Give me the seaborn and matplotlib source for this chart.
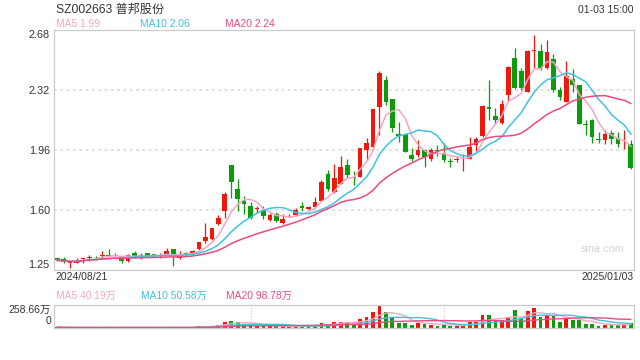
import numpy as np
import pandas as pd
import matplotlib
matplotlib.use('Agg')
import matplotlib.pyplot as plt
import seaborn as sns

# daily k-line, 2024/08/21 .. 2025/01/03
opens = [1.312, 1.306, 1.282, 1.282, 1.306, 1.312, 1.316, 1.322, 1.332, 1.326,
         1.318, 1.292, 1.340, 1.314, 1.340, 1.334, 1.326, 1.338, 1.364, 1.312,
         1.340, 1.340, 1.366, 1.414, 1.426, 1.516, 1.594, 1.868, 1.724, 1.654,
         1.622, 1.608, 1.602, 1.542, 1.574, 1.522, 1.562, 1.568, 1.626, 1.606,
         1.620, 1.656, 1.814, 1.708, 1.758, 1.868, 1.800, 1.798, 1.960, 1.976,
         2.218, 2.378, 2.268, 2.054, 2.054, 1.932, 1.928, 1.958, 1.904, 1.962,
         1.940, 1.892, 1.900, 1.904, 1.906, 1.990, 2.046, 2.216, 2.166, 2.120,
         2.290, 2.510, 2.434, 2.310, 2.556, 2.554, 2.454, 2.508, 2.318, 2.248,
         2.388, 2.348, 2.118, 2.138, 2.026, 2.018, 2.062, 2.032, 1.976, 1.994]
closes = [1.298, 1.290, 1.286, 1.292, 1.310, 1.320, 1.318, 1.332, 1.326, 1.332,
          1.292, 1.332, 1.326, 1.332, 1.326, 1.322, 1.330, 1.354, 1.322, 1.330,
          1.336, 1.352, 1.406, 1.436, 1.490, 1.550, 1.694, 1.768, 1.664, 1.636,
          1.554, 1.612, 1.564, 1.568, 1.534, 1.544, 1.566, 1.602, 1.614, 1.620,
          1.648, 1.768, 1.726, 1.792, 1.858, 1.808, 1.794, 1.972, 2.000, 2.204,
          2.420, 2.248, 2.094, 2.044, 1.948, 1.904, 1.962, 1.918, 1.958, 1.954,
          1.900, 1.888, 1.902, 1.906, 1.976, 2.024, 2.224, 2.206, 2.140, 2.234,
          2.456, 2.330, 2.334, 2.554, 2.560, 2.454, 2.546, 2.318, 2.278, 2.402,
          2.352, 2.114, 2.112, 2.038, 2.020, 2.058, 2.026, 1.994, 1.980, 1.852]
highs = [1.314, 1.318, 1.288, 1.314, 1.312, 1.332, 1.326, 1.352, 1.364, 1.344,
         1.326, 1.336, 1.352, 1.340, 1.344, 1.338, 1.342, 1.374, 1.368, 1.352,
         1.350, 1.362, 1.410, 1.524, 1.494, 1.572, 1.706, 1.868, 1.784, 1.684,
         1.648, 1.622, 1.622, 1.582, 1.590, 1.574, 1.574, 1.614, 1.648, 1.626,
         1.678, 1.782, 1.838, 1.876, 1.926, 1.908, 1.834, 1.974, 2.030, 2.208,
         2.432, 2.402, 2.268, 2.128, 2.056, 1.974, 2.018, 1.968, 1.974, 1.990,
         2.000, 1.910, 1.926, 1.934, 2.036, 2.040, 2.230, 2.380, 2.210, 2.260,
         2.464, 2.570, 2.450, 2.560, 2.652, 2.598, 2.622, 2.538, 2.338, 2.492,
         2.448, 2.348, 2.138, 2.148, 2.068, 2.078, 2.078, 2.068, 2.082, 2.018]
lows = [1.292, 1.282, 1.254, 1.280, 1.282, 1.292, 1.298, 1.314, 1.322, 1.322,
        1.282, 1.290, 1.314, 1.306, 1.322, 1.318, 1.314, 1.334, 1.264, 1.304,
        1.326, 1.334, 1.358, 1.402, 1.422, 1.512, 1.554, 1.674, 1.594, 1.574,
        1.548, 1.582, 1.548, 1.534, 1.530, 1.514, 1.556, 1.566, 1.594, 1.600,
        1.614, 1.652, 1.714, 1.704, 1.754, 1.792, 1.748, 1.796, 1.900, 1.962,
        2.048, 2.228, 2.068, 2.008, 1.946, 1.894, 1.918, 1.858, 1.896, 1.926,
        1.890, 1.860, 1.890, 1.834, 1.906, 1.950, 2.040, 2.140, 2.114, 2.114,
        2.256, 2.326, 2.320, 2.306, 2.452, 2.442, 2.448, 2.308, 2.258, 2.248,
        2.308, 2.114, 2.048, 2.000, 2.002, 1.998, 1.998, 1.978, 1.968, 1.846]
# volume, 万
volumes = [8, 6, 5, 5, 6, 5, 4, 5, 7, 5,
           6, 7, 5, 6, 5, 5, 4, 6, 12, 5,
           6, 8, 18, 26, 26, 39, 69, 84, 67, 42,
           32, 23, 23, 21, 18, 18, 12, 18, 23, 18,
           23, 58, 46, 67, 67, 67, 48, 100, 121, 179,
           258.66, 179, 116, 60, 60, 39, 60, 48, 39, 28,
           39, 28, 28, 21, 69, 69, 150, 143, 79, 90,
           127, 200, 109, 190, 227, 127, 146, 137, 69, 118,
           86, 86, 48, 42, 28, 36, 36, 30, 48, 51]

price_ticks = ['1.25', '1.60', '1.96', '2.32', '2.68']
vol_ticks = ['0', '258.66万']
dates = ['2024/08/21', '2025/01/03']
price_ma_labels = ['MA5 1.99', 'MA10 2.06', 'MA20 2.24']
vol_ma_labels = ['MA5 40.19万', 'MA10 50.58万', 'MA20 98.78万']

UP = '#f2170b'
DOWN = '#0b9c0b'
C5, C10, C20 = '#f7a6c2', '#3ec3e4', '#ea4a80'
TXT = '#333333'
FONT = ['Liberation Sans', 'Noto Sans CJK SC']

plt.rcParams['font.family'] = FONT

df = pd.DataFrame({'open': opens, 'close': closes, 'high': highs,
                   'low': lows, 'vol': volumes})
df['x'] = np.arange(len(df))
for n in (5, 10, 20):
    df[f'ma{n}'] = df['close'].rolling(n, min_periods=1).mean()
    df[f'vma{n}'] = df['vol'].rolling(n, min_periods=1).mean()
up = df['close'] >= df['open']
colors = np.where(up, UP, DOWN)

fig = plt.figure(figsize=(6.4, 3.6), dpi=100)
W, H = 640, 360
ax = fig.add_axes([54 / W, 1 - 269.5 / H, 580 / W, 239.5 / H])
axv = fig.add_axes([54 / W, 1 - 328 / H, 580 / W, 23 / H])

# price panel
lo, hi = 1.2425, 2.68
ax.vlines(df['x'], df['low'], df['high'], colors=colors, lw=0.9, zorder=2)
body = (df['close'] - df['open']).abs().clip(lower=0.003)
ax.bar(df['x'], body, bottom=df[['open', 'close']].min(axis=1),
       width=0.74, color=colors, lw=0, zorder=3)
for n, c in ((5, C5), (10, C10), (20, C20)):
    sns.lineplot(data=df, x='x', y=f'ma{n}', ax=ax, color=c, lw=1.1, zorder=4)
ticks = np.linspace(lo, hi, 5)
for t in ticks[1:-1]:
    ax.axhline(t, color='#dddddd', lw=1.3, ls=(0, (1.5, 2)), zorder=1)
ax.set_xlim(-0.5, len(df) - 0.5)
ax.set_ylim(lo, hi)
ax.set_yticks(ticks)
ax.set_yticklabels(price_ticks)
ax.set_xticks([])
ax.set_xlabel('')
ax.set_ylabel('')
ax.tick_params(axis='y', length=0, pad=3, labelsize=7.8, labelcolor=TXT)
labs = ax.get_yticklabels()
labs[0].set_va('bottom')
labs[-1].set_va('top')
for s in ax.spines.values():
    s.set_color('#cccccc')
    s.set_linewidth(0.9)
ax.text(0.983, 0.085, 'sina.com', transform=ax.transAxes, ha='right',
        va='center', color='#d2d2d2', fontsize=7.8)

# volume panel
axv.bar(df['x'], df['vol'], width=0.6, color=colors, lw=0, zorder=2)
for n, c in ((5, C5), (10, C10), (20, C20)):
    sns.lineplot(data=df, x='x', y=f'vma{n}', ax=axv, color=c, lw=1.0, zorder=3)
for xv in (30, 60):
    axv.axvline(xv, color='#cccccc', lw=0.8, ls=(0, (1, 1.5)), zorder=1)
axv.set_xlim(-0.5, len(df) - 0.5)
axv.set_ylim(0, 258.66)
axv.set_yticks([])
axv.set_xticks([])
axv.set_xlabel('')
axv.set_ylabel('')
for s in axv.spines.values():
    s.set_color('#cccccc')
    s.set_linewidth(0.9)


def ftext(x, y, s, **kw):
    fig.text(x / W, 1 - y / H, s, va='center', **kw)


ftext(56, 10, 'SZ002663 普邦股份', color=TXT, fontsize=8.7)
ftext(634, 10, '01-03 15:00', color=TXT, fontsize=7.5, ha='right')
for xp, s, c in zip((56, 140, 225), price_ma_labels, (C5, C10, C20)):
    ftext(xp, 24, s, color=c, fontsize=7.4)
ftext(55, 277, dates[0], color=TXT, fontsize=7.5)
ftext(634, 277, dates[1], color=TXT, fontsize=7.5, ha='right')
for xp, s, c in zip((56, 141, 226), vol_ma_labels, (C5, C10, C20)):
    ftext(xp, 296, s, color=c, fontsize=7.4)
ftext(51, 310, vol_ticks[1], color=TXT, fontsize=7.5, ha='right')
ftext(51, 321.5, vol_ticks[0], color=TXT, fontsize=7.5, ha='right')

fig.savefig('out.png', dpi=100)
